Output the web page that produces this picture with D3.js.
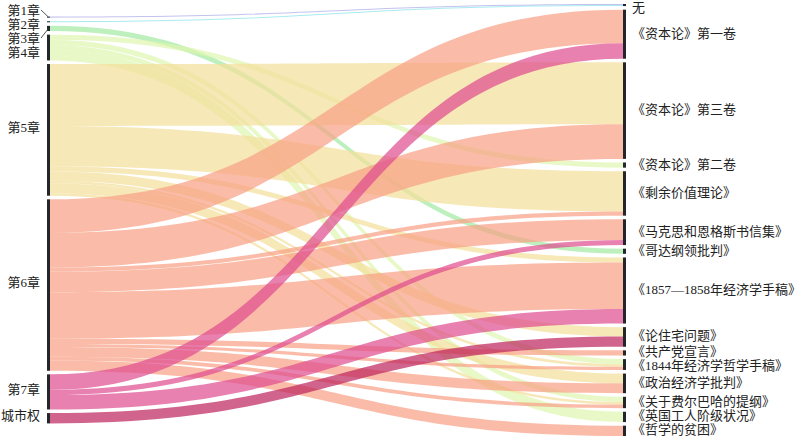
<!DOCTYPE html>
<html>
<head>
<meta charset="utf-8">
<script src="https://cdn.jsdelivr.net/npm/d3@7"></script>
<style>
  html, body { margin: 0; padding: 0; background: #fff; }
  svg { display: block; }
  text { font-family: "Liberation Serif", "Noto Sans CJK SC", serif; font-size: 13px; fill: #222; }
</style>
</head>
<body>
<svg id="chart" width="800" height="439"></svg>
<script>
// ---- data ----
const sources = ["第1章","第2章","第3章","第4章","第5章","第6章","第7章","城市权"];
const targets = ["无","《资本论》第一卷","《资本论》第三卷","《资本论》第二卷","《剩余价值理论》",
  "《马克思和恩格斯书信集》","《哥达纲领批判》","《1857—1858年经济学手稿》","《论住宅问题》",
  "《共产党宣言》","《1844年经济学哲学手稿》","《政治经济学批判》","《关于费尔巴哈的提纲》",
  "《英国工人阶级状况》","《哲学的贫困》"];
const sourceColors = ["#aaaaea","#86e2ea","#a2eaa2","#def5ae","#f3de9a","#f89f83","#de4a8e","#bc225b"];

const linkSource = ["第1章","第2章","第3章",
  "第4章","第4章","第4章","第4章",
  "第5章","第5章","第5章","第5章","第5章","第5章","第5章",
  "第6章","第6章","第6章","第6章","第6章","第6章","第6章","第6章","第6章","第6章",
  "第7章","第7章","第7章",
  "城市权"];
const linkTarget = ["无","无","《哥达纲领批判》",
  "《资本论》第二卷","《1844年经济学哲学手稿》","《关于费尔巴哈的提纲》","《英国工人阶级状况》",
  "《资本论》第三卷","《剩余价值理论》","《1857—1858年经济学手稿》","《论住宅问题》","《1844年经济学哲学手稿》","《政治经济学批判》","《关于费尔巴哈的提纲》",
  "《资本论》第一卷","《资本论》第三卷","《剩余价值理论》","《马克思和恩格斯书信集》","《1857—1858年经济学手稿》","《共产党宣言》","《1844年经济学哲学手稿》","《政治经济学批判》","《关于费尔巴哈的提纲》","《哲学的贫困》",
  "《资本论》第一卷","《马克思和恩格斯书信集》","《1857—1858年经济学手稿》",
  "《论住宅问题》"];
const linkValue = [0.2,0.2,1,
  1,1,1,2,
  12,7.8,1,1.8,0.5,1.9,0.5,
  6.5,6.7,0.8,4,9,1,0.6,1.9,0.7,2,
  3,1,2.8,
  2];

// ---- layout ----
const yTop = 4, yBottom = 436, gap = 3.6, nodeW = 3;
const leftX = 47, rightX = 623;

const links = linkSource.map((s, i) => ({ s, t: linkTarget[i], v: linkValue[i], si: sources.indexOf(s), ti: targets.indexOf(linkTarget[i]) }));
const srcSum = sources.map(s => d3.sum(links.filter(l => l.s === s), l => l.v));
const tgtSum = targets.map(t => d3.sum(links.filter(l => l.t === t), l => l.v));
const total = d3.sum(linkValue);

const avail = yBottom - yTop;
const kyL = (avail - (sources.length - 1) * gap) / total;
const kyR = (avail - (targets.length - 1) * gap) / total;
const ky = Math.min(kyL, kyR);
const vScale = d3.scaleLinear().domain([0, total]).range([0, total * ky]);

function stack(names, sums) {
  const span = vScale(total) + (names.length - 1) * gap;
  let y = yTop + (avail - span) / 2;
  return names.map((n, i) => { const h = vScale(sums[i]); const node = { name: n, y0: y, y1: y + h }; y += h + gap; return node; });
}
const leftNodes = stack(sources, srcSum);
const rightNodes = stack(targets, tgtSum);

sources.forEach((s, i) => {
  let y = leftNodes[i].y0;
  links.filter(l => l.si === i).sort((a, b) => a.ti - b.ti).forEach(l => { l.sy0 = y; y += vScale(l.v); l.sy1 = y; });
});
targets.forEach((t, i) => {
  let y = rightNodes[i].y0;
  links.filter(l => l.ti === i).sort((a, b) => a.si - b.si).forEach(l => { l.ty0 = y; y += vScale(l.v); l.ty1 = y; });
});

const svg = d3.select("#chart");
const x1 = leftX + nodeW, x2 = rightX, xm = (x1 + x2) / 2;

function linkPath(l) {
  const p = d3.path();
  p.moveTo(x1, l.sy0);
  p.bezierCurveTo(xm, l.sy0, xm, l.ty0, x2, l.ty0);
  p.lineTo(x2, l.ty1);
  p.bezierCurveTo(xm, l.ty1, xm, l.sy1, x1, l.sy1);
  p.closePath();
  return p.toString();
}

svg.append("g").selectAll("path").data(links).join("path")
  .attr("d", linkPath)
  .attr("fill", l => sourceColors[l.si])
  .attr("fill-opacity", 0.7);

svg.append("g").selectAll("rect").data(leftNodes).join("rect")
  .attr("x", leftX).attr("y", d => d.y0).attr("width", nodeW).attr("height", d => Math.max(0.5, d.y1 - d.y0))
  .attr("fill", "#23272b");
svg.append("g").selectAll("rect").data(rightNodes).join("rect")
  .attr("x", rightX).attr("y", d => d.y0).attr("width", nodeW).attr("height", d => Math.max(0.5, d.y1 - d.y0))
  .attr("fill", "#23272b");

// label placement: blend of symmetric relaxation and push-down, kept inside the view
function placeLabels(nodes, minGap, offset, minY) {
  const nat = nodes.map(n => Math.max(minY, (n.y0 + n.y1) / 2 + offset));
  const sym = nat.slice();
  for (let iter = 0; iter < 80; iter++) {
    for (let i = 1; i < sym.length; i++) {
      const d = sym[i] - sym[i - 1];
      if (d < minGap) { const m = (minGap - d) / 2; sym[i] += m; sym[i - 1] -= m; }
    }
  }
  const push = [];
  nat.forEach((v, i) => push.push(i === 0 ? v : Math.max(v, push[i - 1] + minGap)));
  const out = nodes.map((n, i) => ({ name: n.name, c: (n.y0 + n.y1) / 2, y0: n.y0, y1: n.y1,
    y: (sym[i] + push[i]) / 2 }));
  for (let i = 0; i < out.length; i++) {
    if (i === 0) out[i].y = Math.max(minY, out[i].y);
    else out[i].y = Math.max(out[i].y, out[i - 1].y + minGap);
  }
  return out;
}
const leftLabels = placeLabels(leftNodes, 14, -2.5, 10);
const rightLabels = placeLabels(rightNodes, 14, -1, 7);

const lg = svg.append("g");
lg.selectAll("text").data(leftLabels).join("text")
  .attr("x", leftX - 7).attr("y", d => d.y).attr("dy", "0.35em").attr("text-anchor", "end")
  .text(d => d.name);
lg.selectAll("polyline").data(leftLabels.filter(d => d.y < d.y0 - 2 || d.y > d.y1 + 2)).join("polyline")
  .attr("points", d => `${leftX - 6},${d.y} ${leftX + 1.5},${d.c}`)
  .attr("fill", "none").attr("stroke", "#444").attr("stroke-width", 0.9);

const rg = svg.append("g");
rg.selectAll("text").data(rightLabels).join("text")
  .attr("x", rightX + nodeW + 6).attr("y", d => d.y).attr("dy", "0.35em").attr("text-anchor", "start")
  .text(d => d.name);
</script>
</body>
</html>
